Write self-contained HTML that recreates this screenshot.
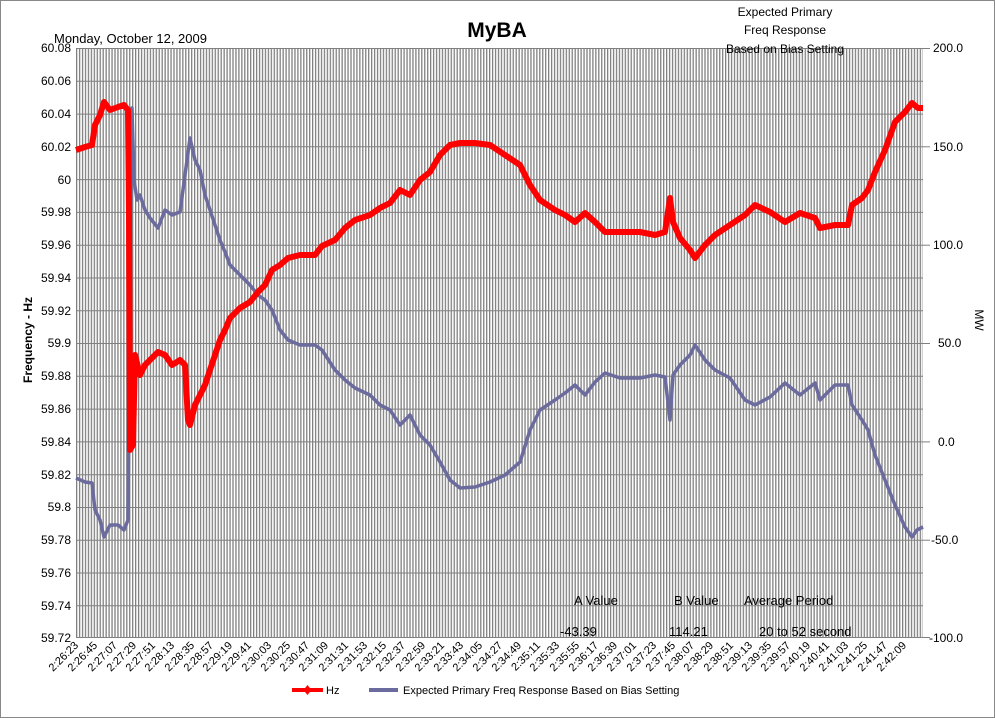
<!DOCTYPE html>
<html><head><style>
body{margin:0;background:#fff;}
svg{display:block;font-family:"Liberation Sans","DejaVu Sans",sans-serif;}
</style></head><body>
<svg width="995" height="718" viewBox="0 0 995 718" xmlns="http://www.w3.org/2000/svg">
<defs>
<pattern id="vg" x="76" y="0" width="2.95" height="10" patternUnits="userSpaceOnUse">
<rect x="0" y="0" width="1.3" height="10" fill="#808080"/>
</pattern>
</defs>
<rect x="0.5" y="0.5" width="994" height="717" fill="#fff" stroke="#888"/>
<rect x="76" y="48" width="847" height="590" fill="url(#vg)"/>
<g stroke="#808080" stroke-width="1">
<line x1="76" y1="48.5" x2="923" y2="48.5"/><line x1="76" y1="81.3" x2="923" y2="81.3"/><line x1="76" y1="114.1" x2="923" y2="114.1"/><line x1="76" y1="146.8" x2="923" y2="146.8"/><line x1="76" y1="179.6" x2="923" y2="179.6"/><line x1="76" y1="212.4" x2="923" y2="212.4"/><line x1="76" y1="245.2" x2="923" y2="245.2"/><line x1="76" y1="278" x2="923" y2="278"/><line x1="76" y1="310.8" x2="923" y2="310.8"/><line x1="76" y1="343.5" x2="923" y2="343.5"/><line x1="76" y1="376.3" x2="923" y2="376.3"/><line x1="76" y1="409.1" x2="923" y2="409.1"/><line x1="76" y1="441.9" x2="923" y2="441.9"/><line x1="76" y1="474.7" x2="923" y2="474.7"/><line x1="76" y1="507.5" x2="923" y2="507.5"/><line x1="76" y1="540.2" x2="923" y2="540.2"/><line x1="76" y1="573" x2="923" y2="573"/><line x1="76" y1="605.8" x2="923" y2="605.8"/><line x1="76" y1="637.5" x2="930" y2="637.5"/>
<line x1="923" y1="48.5" x2="930" y2="48.5"/><line x1="923" y1="146.8" x2="930" y2="146.8"/><line x1="923" y1="245.2" x2="930" y2="245.2"/><line x1="923" y1="343.5" x2="930" y2="343.5"/><line x1="923" y1="441.9" x2="930" y2="441.9"/><line x1="923" y1="540.2" x2="930" y2="540.2"/>
</g>
<g font-size="12" fill="#000" text-anchor="end">
<text x="71" y="52">60.08</text><text x="71" y="85">60.06</text><text x="71" y="118">60.04</text><text x="71" y="151">60.02</text><text x="71" y="184">60</text><text x="71" y="216">59.98</text><text x="71" y="249">59.96</text><text x="71" y="282">59.94</text><text x="71" y="315">59.92</text><text x="71" y="347">59.9</text><text x="71" y="380">59.88</text><text x="71" y="413">59.86</text><text x="71" y="446">59.84</text><text x="71" y="479">59.82</text><text x="71" y="511">59.8</text><text x="71" y="544">59.78</text><text x="71" y="577">59.76</text><text x="71" y="610">59.74</text><text x="71" y="642">59.72</text>
</g>
<g font-size="12" fill="#000">
<text x="933" y="52">200.0</text><text x="933" y="151">150.0</text><text x="933" y="249">100.0</text><text x="938" y="347">50.0</text><text x="938" y="446">0.0</text><text x="931" y="544">-50.0</text><text x="929" y="642">-100.0</text>
</g>
<text x="497" y="37" font-size="21" font-weight="bold" text-anchor="middle">MyBA</text>
<text x="54" y="43" font-size="13">Monday, October 12, 2009</text>
<g font-size="12" text-anchor="middle"><text x="785" y="16">Expected Primary</text><text x="785" y="34">Freq Response</text><text x="785" y="53">Based on Bias Setting</text></g>
<text transform="translate(32,340) rotate(-90)" font-size="12" font-weight="bold" text-anchor="middle">Frequency - Hz</text>
<text transform="translate(975,320) rotate(90)" font-size="12" text-anchor="middle">MW</text>
<g font-size="13" fill="#000">
<text x="574" y="605">A Value</text><text x="674" y="605">B Value</text><text x="744" y="605">Average Period</text>
<text x="560" y="636">-43.39</text><text x="669" y="636">114.21</text><text x="759" y="636">20 to 52 second</text>
</g>
<polyline fill="none" stroke="#6b6b9e" stroke-width="3.5" stroke-linejoin="round" points="76,478 85,482 92,483 95,510 100,520 104,537 110,525 118,525 124,530 128,520 130,240 132,108 134,180 137,200 140,195 145,210 150,218 158,228 165,210 172,215 180,212 185,175 190,138 195,160 200,170 205,195 210,210 215,225 220,240 225,252 230,265 240,275 250,285 258,295 265,300 272,310 280,330 288,340 300,345 315,345 322,350 335,370 345,380 355,388 370,395 380,405 390,410 400,425 410,415 420,435 430,445 440,462 450,480 460,488 475,487 490,482 505,475 520,462 530,430 540,410 555,400 565,393 575,385 585,395 595,382 605,373 620,378 640,378 655,375 665,377 670,420 673,375 680,365 690,355 695,345 705,360 715,370 730,378 745,400 755,405 770,397 785,383 800,395 815,383 820,400 835,385 848,385 852,405 862,420 868,430 875,455 885,480 895,505 905,527 912,537 917,530 923,527"/>
<polyline fill="none" stroke="#ff0000" stroke-width="6" stroke-linejoin="round" points="76,150 85,147 92,145 95,125 100,115 104,102 110,110 118,107 124,105 128,110 129,216 130,450 133,445 135,355 140,375 145,365 150,360 158,352 165,355 172,365 180,360 185,365 188,420 190,425 195,405 200,395 205,385 210,370 215,355 220,340 225,330 230,318 240,308 250,302 258,292 265,285 272,270 280,265 288,258 300,255 315,255 322,246 335,240 345,228 355,220 370,215 380,208 390,203 400,190 410,195 420,180 430,172 440,155 450,145 460,143 475,143 490,145 505,155 520,165 530,185 540,200 555,210 565,215 575,222 585,213 595,222 605,232 620,232 640,232 655,235 665,232 670,198 673,222 680,238 690,250 695,258 705,245 715,235 730,225 745,215 755,205 770,212 785,222 800,213 815,218 820,228 835,225 848,225 852,205 862,198 868,190 875,172 885,150 895,122 905,112 912,103 918,108 923,108"/>
<line x1="292" y1="690" x2="323" y2="690" stroke="#ff0000" stroke-width="4"/>
<path d="M307.5,685 l4,5 l-4,5 l-4,-5z" fill="#ff0000"/>
<text x="326" y="694" font-size="11">Hz</text>
<line x1="369" y1="690" x2="398" y2="690" stroke="#6b6b9e" stroke-width="4"/>
<text x="403" y="694" font-size="11">Expected Primary Freq Response Based on Bias Setting</text>
<g font-size="11" text-anchor="end">
<text transform="translate(79,646) rotate(-45)">2:26:23</text><text transform="translate(98,646) rotate(-45)">2:26:45</text><text transform="translate(118,646) rotate(-45)">2:27:07</text><text transform="translate(137,646) rotate(-45)">2:27:29</text><text transform="translate(156,646) rotate(-45)">2:27:51</text><text transform="translate(175,646) rotate(-45)">2:28:13</text><text transform="translate(195,646) rotate(-45)">2:28:35</text><text transform="translate(214,646) rotate(-45)">2:28:57</text><text transform="translate(233,646) rotate(-45)">2:29:19</text><text transform="translate(252,646) rotate(-45)">2:29:41</text><text transform="translate(272,646) rotate(-45)">2:30:03</text><text transform="translate(291,646) rotate(-45)">2:30:25</text><text transform="translate(310,646) rotate(-45)">2:30:47</text><text transform="translate(329,646) rotate(-45)">2:31:09</text><text transform="translate(349,646) rotate(-45)">2:31:31</text><text transform="translate(368,646) rotate(-45)">2:31:53</text><text transform="translate(387,646) rotate(-45)">2:32:15</text><text transform="translate(406,646) rotate(-45)">2:32:37</text><text transform="translate(426,646) rotate(-45)">2:32:59</text><text transform="translate(445,646) rotate(-45)">2:33:21</text><text transform="translate(464,646) rotate(-45)">2:33:43</text><text transform="translate(483,646) rotate(-45)">2:34:05</text><text transform="translate(503,646) rotate(-45)">2:34:27</text><text transform="translate(522,646) rotate(-45)">2:34:49</text><text transform="translate(541,646) rotate(-45)">2:35:11</text><text transform="translate(560,646) rotate(-45)">2:35:33</text><text transform="translate(580,646) rotate(-45)">2:35:55</text><text transform="translate(599,646) rotate(-45)">2:36:17</text><text transform="translate(618,646) rotate(-45)">2:36:39</text><text transform="translate(637,646) rotate(-45)">2:37:01</text><text transform="translate(657,646) rotate(-45)">2:37:23</text><text transform="translate(676,646) rotate(-45)">2:37:45</text><text transform="translate(695,646) rotate(-45)">2:38:07</text><text transform="translate(714,646) rotate(-45)">2:38:29</text><text transform="translate(734,646) rotate(-45)">2:38:51</text><text transform="translate(753,646) rotate(-45)">2:39:13</text><text transform="translate(772,646) rotate(-45)">2:39:35</text><text transform="translate(791,646) rotate(-45)">2:39:57</text><text transform="translate(811,646) rotate(-45)">2:40:19</text><text transform="translate(830,646) rotate(-45)">2:40:41</text><text transform="translate(849,646) rotate(-45)">2:41:03</text><text transform="translate(868,646) rotate(-45)">2:41:25</text><text transform="translate(888,646) rotate(-45)">2:41:47</text><text transform="translate(907,646) rotate(-45)">2:42:09</text>
</g>
</svg>
</body></html>
